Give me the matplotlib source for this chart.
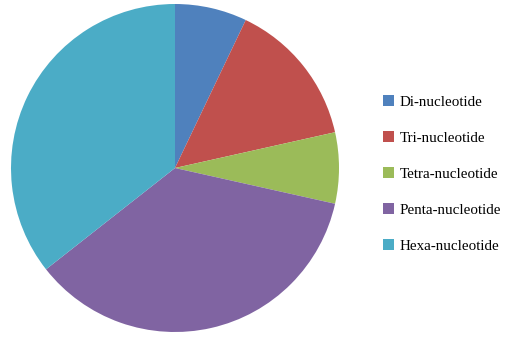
import matplotlib
matplotlib.use("Agg")
import matplotlib.pyplot as plt
from matplotlib.patches import Patch
from matplotlib import font_manager

categories = ["Di-nucleotide", "Tri-nucleotide", "Tetra-nucleotide", "Penta-nucleotide", "Hexa-nucleotide"]
values = [7.1, 14.4, 7.0, 35.9, 35.6]
colors = ["#4F81BD", "#C0504D", "#9BBB59", "#8064A2", "#4BACC6"]

names = sorted({f.name for f in font_manager.fontManager.ttflist})
serif = "Liberation Serif" if "Liberation Serif" in names else "DejaVu Serif"

W, H = 515, 337
fig = plt.figure(figsize=(W / 100, H / 100), dpi=100)
ax = fig.add_axes([11 / W, (H - 332) / H, 328 / W, 328 / H])
ax.pie(values, colors=colors, startangle=90, counterclock=False, radius=1,
       wedgeprops=dict(linewidth=0))
ax.set_xlim(-1, 1)
ax.set_ylim(-1, 1)
ax.set_aspect("equal")
ax.axis("off")

handles = [Patch(facecolor=c, edgecolor="none") for c in colors]
fig.legend(handles, categories, loc="center left",
           bbox_to_anchor=(383 / W, (H - 174) / H),
           frameon=False, prop=dict(family=serif, size=10.8),
           handlelength=0.72, handleheight=0.72, handletextpad=0.4,
           labelspacing=1.5, borderpad=0, borderaxespad=0)

fig.savefig("out.png", dpi=100)
